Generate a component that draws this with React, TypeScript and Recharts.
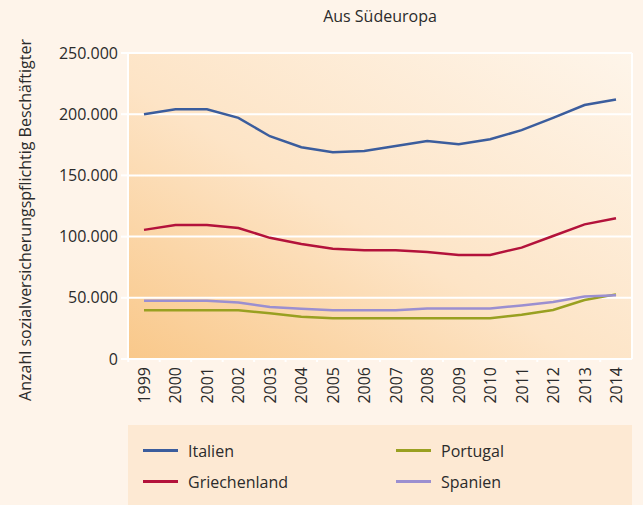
import { CartesianGrid, Legend, Line, LineChart, XAxis, YAxis } from "recharts";

const years = ["1999", "2000", "2001", "2002", "2003", "2004", "2005", "2006", "2007", "2008", "2009", "2010", "2011", "2012", "2013", "2014"];
const italien = [200000, 204000, 204000, 197000, 182000, 173000, 169000, 170000, 174000, 178000, 175500, 179500, 187000, 197000, 207500, 212000];
const griechenland = [105500, 109500, 109500, 107000, 99000, 94000, 90000, 88800, 88800, 87400, 85000, 85000, 91000, 100500, 110000, 115000];
const portugal = [39800, 39800, 39800, 39800, 37300, 34600, 33300, 33300, 33300, 33300, 33300, 33300, 36200, 40000, 48200, 52800];
const spanien = [47600, 47600, 47600, 46200, 42400, 41000, 39800, 39800, 39800, 41300, 41300, 41300, 43800, 46600, 51000, 52000];
const yTicks = [0, 50000, 100000, 150000, 200000, 250000];

const data = years.map((year, i) => ({
  year,
  italien: italien[i],
  griechenland: griechenland[i],
  portugal: portugal[i],
  spanien: spanien[i],
}));

const series = [
  { key: "italien", name: "Italien", color: "#3b5d9d" },
  { key: "griechenland", name: "Griechenland", color: "#b3123b" },
  { key: "portugal", name: "Portugal", color: "#99a021" },
  { key: "spanien", name: "Spanien", color: "#9b8fd0" },
];

const FONT = "'Open Sans', sans-serif";
const TEXT = "#2b2b2b";

const fmt = (v: number) => String(v).replace(/\B(?=(\d{3})+(?!\d))/g, ".");

function YearTick({ x, y, payload }: any) {
  return (
    <g transform={`translate(${x},${y})`}>
      <line x1={-15.75} x2={-15.75} y1={-8} y2={-5} stroke="#fff" strokeWidth={2} />
      <text
        x={0}
        y={0}
        dy={6}
        transform="rotate(-90)"
        textAnchor="end"
        fill={TEXT}
        fontSize={16}
        fontFamily={FONT}
      >
        {payload.value}
      </text>
    </g>
  );
}

function LegendBox() {
  const col = (items: typeof series) => (
    <div style={{ display: "flex", flexDirection: "column", gap: 8 }}>
      {items.map((s) => (
        <div key={s.key} style={{ display: "flex", alignItems: "center", height: 23 }}>
          <span style={{ display: "inline-block", width: 35, height: 3, background: s.color, marginRight: 10 }} />
          <span style={{ fontSize: 16, color: TEXT, fontFamily: FONT }}>{s.name}</span>
        </div>
      ))}
    </div>
  );
  return (
    <div style={{ display: "flex", paddingLeft: 15, paddingTop: 14 }}>
      <div style={{ width: 253 }}>{col([series[0], series[1]])}</div>
      <div>{col([series[2], series[3]])}</div>
    </div>
  );
}

export default function App() {
  return (
    <div style={{ position: "absolute", left: 0, top: 0, width: 643, height: 505, background: "#fef4ea" }}>
      <LineChart width={643} height={505} data={data} margin={{ top: 53, right: 11, left: 0, bottom: 80 }}>
        <defs>
          <linearGradient id="plotBg" x1="0" y1="1" x2="1" y2="0">
            <stop offset="0%" stopColor="#f9c88a" />
            <stop offset="45%" stopColor="#fde4c6" />
            <stop offset="100%" stopColor="#fef5ea" />
          </linearGradient>
        </defs>
        <text x={380} y={22} textAnchor="middle" fill={TEXT} fontSize={16} fontFamily={FONT}>
          Aus Südeuropa
        </text>
        <CartesianGrid
          fill="url(#plotBg)"
          stroke="#fff"
          strokeWidth={2}
          verticalCoordinatesGenerator={({ offset }: any) => [offset.left, offset.left + offset.width]}
        />
        <XAxis
          dataKey="year"
          padding={{ left: 16, right: 16 }}
          axisLine={{ stroke: "#fff", strokeWidth: 2 }}
          tickLine={false}
          tickSize={6}
          tickMargin={2}
          interval={0}
          height={66}
          tick={<YearTick />}
        />
        <YAxis
          width={128}
          domain={[0, 250000]}
          ticks={yTicks}
          tickFormatter={fmt}
          axisLine={{ stroke: "#fff", strokeWidth: 2 }}
          tickLine={{ stroke: "#fff", strokeWidth: 2 }}
          tickSize={7}
          tickMargin={3}
          tick={{ fill: TEXT, fontSize: 16, fontFamily: FONT }}
          label={{
            content: ({ viewBox }: any) => (
              <text
                transform={`translate(${viewBox.x + 31},${viewBox.y + viewBox.height / 2 + 14}) rotate(-90)`}
                textAnchor="middle"
                fill={TEXT}
                fontSize={16}
                fontFamily={FONT}
              >
                Anzahl sozialversicherungspflichtig Beschäftigter
              </text>
            ),
          }}
        />
        <Legend
          layout="vertical"
          align="center"
          verticalAlign="middle"
          content={<LegendBox />}
          wrapperStyle={{ left: 128, top: 425, width: 504, height: 80, background: "#fde9d3" }}
        />
        {series.map((s) => (
          <Line
            key={s.key}
            type="linear"
            dataKey={s.key}
            name={s.name}
            stroke={s.color}
            strokeWidth={2.5}
            dot={false}
            isAnimationActive={false}
          />
        ))}
      </LineChart>
    </div>
  );
}
